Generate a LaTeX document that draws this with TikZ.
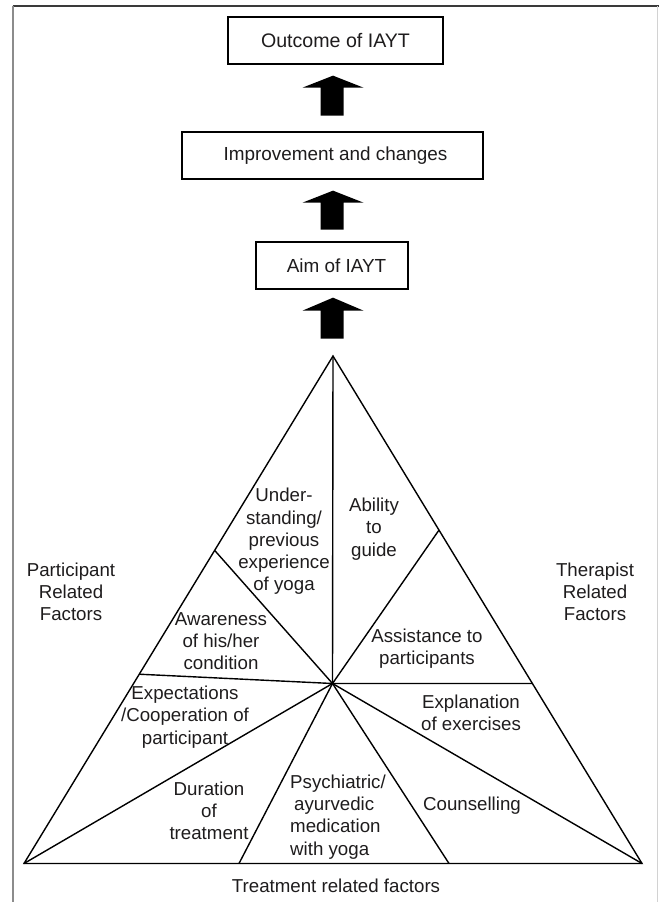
\documentclass[tikz,border=0pt]{standalone}
\usepackage{fontspec}
\setmainfont{Liberation Sans}
\usetikzlibrary{calc}
\definecolor{frtop}{HTML}{3A3A3A}
\definecolor{frleft}{HTML}{8C8C8C}
\definecolor{frright}{HTML}{D2D2D2}
\definecolor{ink}{HTML}{1E1C1D}
\begin{document}
\begin{tikzpicture}[x=1pt,y=-1pt,
  txt/.style={font=\fontsize{18.7}{22.2}\selectfont, text=ink, align=center, inner sep=0pt},
  box/.style={draw=black, line width=1.3pt, minimum height=47pt, inner sep=0pt,
              font=\fontsize{18.9}{22}\selectfont, text=ink},
  tri/.style={draw=black, line width=1.4pt, line join=miter},
  blockarrow/.style={fill=black}]
\path[use as bounding box] (0,0) rectangle (659,902);
% frame
\draw[frtop, line width=1.5pt] (12.5,6) -- (659,6);
\draw[frleft, line width=1.5pt] (13,5.5) -- (13,902);
\draw[frright, line width=1.5pt] (657.5,6) -- (657.5,902);

% boxes
\node[box, minimum width=215pt] (outcome) at (335.5,40.5) {\fontsize{19.6}{22}\selectfont Outcome of IAYT};
\node[box, minimum width=301pt] (improve) at (332.5,155.5) {\hspace*{6pt}Improvement and changes};
\node[box, minimum width=152pt] (aim) at (332,265.5) {\hspace*{9pt}Aim of IAYT};

% triangle coordinates
\coordinate (apex) at (333,356);
\coordinate (L) at (24,863.5);
\coordinate (R) at (642,863.5);
\coordinate (C) at (332.5,683.5);
\coordinate (PL1) at ($(L)!0.617!(apex)$);
\coordinate (PL2) at ($(L)!0.373!(apex)$);
\coordinate (PR1) at ($(R)!0.657!(apex)$);
\coordinate (PR2) at ($(R)!0.3547!(apex)$);
\coordinate (B1) at (239,863.5);
\coordinate (B2) at (449,863.5);

% block arrows
\fill[blockarrow, shift={($(outcome.south -| apex)+(0,11)$)}]
  (0,0) -- (30.5,12) -- (10.5,12) -- (10.5,40) -- (-12.5,40) -- (-12.5,12) -- (-30.5,12) -- cycle;
\fill[blockarrow, shift={($(improve.south -| apex)+(0,11)$)}]
  (0,0) -- (30.5,12) -- (10.5,12) -- (10.5,39) -- (-12.5,39) -- (-12.5,12) -- (-30.5,12) -- cycle;
\fill[blockarrow, shift={($(aim.south -| apex)+(0,8)$)}]
  (0,0) -- (30.5,13) -- (10.5,13) -- (10.5,41) -- (-12.5,41) -- (-12.5,13) -- (-30.5,13) -- cycle;

% triangle
\draw[tri] (apex) -- (L) -- (R) -- cycle;
\draw[tri] (C) -- (apex);
\draw[tri] (C) -- (PL1);
\draw[tri] (C) -- (PL2);
\draw[tri] (C) -- (L);
\draw[tri] (C) -- (B1);
\draw[tri] (C) -- (B2);
\draw[tri] (C) -- (R);
\draw[tri] (C) -- (PR2);
\draw[tri] (C) -- (PR1);

% texts
\node[txt] (under) at (284,541.5) {Under-\\standing/\\previous\\experience\\of yoga};
\node[txt] (ability) at (374,529) {Ability\\to\\guide};
\node[txt] (aware) at (221,641) {Awareness\\of his/her\\condition};
\node[txt] (assist) at (427,648.5) {Assistance to\\participants};
\node[txt] (expect) at (185,717) {Expectations\\/Cooperation of\\participant};
\node[txt] (explan) at (471,713) {Explanation\\of exercises};
\node[txt] (durat) at (209,811) {Duration\\of\\treatment};
\node[txt, align=left, anchor=west] (psych) at (290,817) {Psychiatric/\\\hspace*{4pt}ayurvedic\\medication\\with yoga};
\node[txt] (couns) at (472,806) {Counselling};
\node[txt] (treat) at (336,886) {Treatment related factors};
\node[txt] (partic) at (71,592) {Participant\\Related\\Factors};
\node[txt] (therap) at (595,592) {Therapist\\Related\\Factors};
\end{tikzpicture}
\end{document}
